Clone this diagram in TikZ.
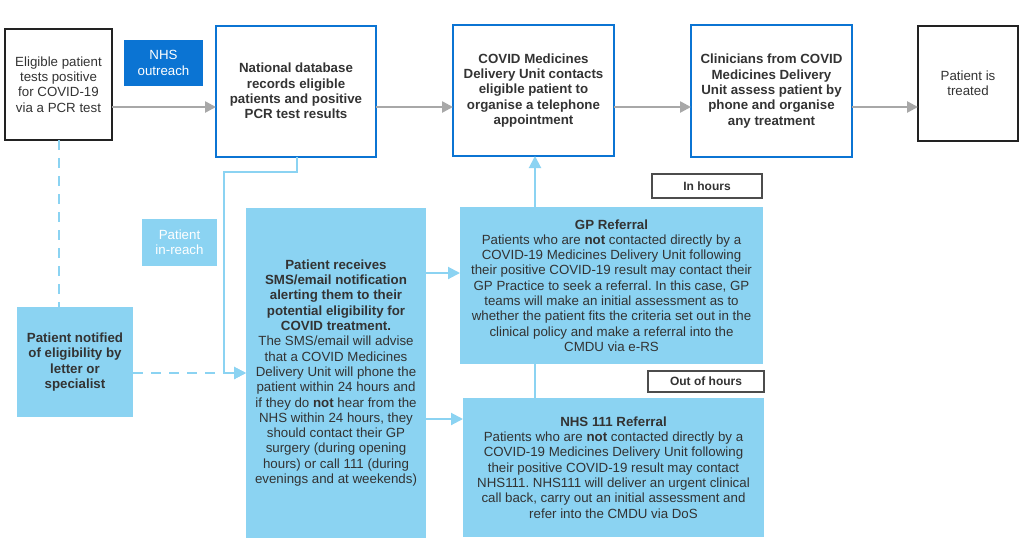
\documentclass[tikz,border=0pt]{standalone}
\usepackage{fontspec}
\setmainfont{Liberation Sans}
\usetikzlibrary{arrows.meta}
\definecolor{nhsblue}{HTML}{0B74D3}
\definecolor{lblue}{HTML}{8BD3F2}
\definecolor{arrgray}{HTML}{A8A8A8}
\definecolor{txt}{HTML}{333333}
\definecolor{frame}{HTML}{222222}
\frenchspacing
\begin{document}
\begin{tikzpicture}[x=1pt,y=-1pt,
  base/.style={inner sep=0pt, outer sep=0pt, align=center, font=\fontsize{13.3}{15.3}\selectfont, text=txt},
  blackbox/.style={base, draw=frame, line width=2pt},
  bluebox/.style={base, draw=nhsblue, line width=2pt, font=\fontsize{13.3}{15.3}\selectfont\bfseries},
  darkfill/.style={base, fill=nhsblue, text=white},
  lightfill/.style={base, fill=lblue},
  lightlabel/.style={base, fill=lblue, text=white},
  tagbox/.style={base, draw=black!70, line width=1.1pt, fill=white, align=left, text depth=0pt, font=\fontsize{12}{14}\selectfont\bfseries, inner xsep=9pt, anchor=west},
  grayarrow/.style={draw=arrgray, line width=2.5pt, -{Triangle[length=11pt,width=11pt]}},
  bluearrow/.style={draw=lblue, line width=2pt, -{Triangle[length=12pt,width=12pt]}},
  blueline/.style={draw=lblue, line width=2pt},
  dashline/.style={draw=lblue, line width=2pt, dash pattern=on 10pt off 8pt},
]
\useasboundingbox (0,0) rectangle (1024,549);

% top row
\node[blackbox, minimum width=107, minimum height=111] (elig) at (58.5,84.5)
  {Eligible patient\\tests positive\\for COVID-19\\via a PCR test};
\node[darkfill, minimum width=79, minimum height=46] (outreach) at (163.5,63)
  {NHS\\outreach};
\node[bluebox, minimum width=160, minimum height=131] (natdb) at (296,91)
  {National database\\records eligible\\patients and positive\\PCR test results};
\node[bluebox, minimum width=161, minimum height=131] (cmdu) at (533.5,90.5)
  {COVID Medicines\\Delivery Unit contacts\\eligible patient to\\organise a telephone\\appointment};
\node[bluebox, minimum width=161, minimum height=132] (clin) at (771.5,91)
  {Clinicians from COVID\\Medicines Delivery\\Unit assess patient by\\phone and organise\\any treatment};
\node[blackbox, minimum width=100, minimum height=115] (treated) at (968,83.5)
  {Patient is\\treated};

% lower part
\node[lightfill, minimum width=116, minimum height=110, font=\fontsize{13.3}{15.3}\selectfont\bfseries] (notified) at (75,362)
  {Patient notified\\of eligibility by\\letter or\\specialist};
\node[lightlabel, minimum width=75, minimum height=47] (inreach) at (179.5,242.5)
  {Patient\\in-reach};
\node[lightfill, minimum width=180, minimum height=330] (sms) at (336,373)
  {\textbf{Patient receives}\\\textbf{SMS/email notification}\\\textbf{alerting them to their}\\\textbf{potential eligibility for}\\\textbf{COVID treatment.}\\
   The SMS/email will advise\\that a COVID Medicines\\Delivery Unit will phone the\\patient within 24 hours and\\if they do \textbf{not} hear from the\\NHS within 24 hours, they\\should contact their GP\\surgery (during opening\\hours) or call 111 (during\\evenings and at weekends)};
\node[lightfill, minimum width=303, minimum height=157] (gp) at (611.5,285.5)
  {\textbf{GP Referral}\\Patients who are \textbf{not} contacted directly by a\\COVID-19 Medicines Delivery Unit following\\their positive COVID-19 result may contact their\\GP Practice to seek a referral. In this case, GP\\teams will make an initial assessment as to\\whether the patient fits the criteria set out in the\\clinical policy and make a referral into the\\CMDU via e-RS};
\node[lightfill, minimum width=301, minimum height=139] (nhs111) at (613.5,467.5)
  {\textbf{NHS 111 Referral}\\Patients who are \textbf{not} contacted directly by a\\COVID-19 Medicines Delivery Unit following\\their positive COVID-19 result may contact\\NHS111. NHS111 will deliver an urgent clinical\\call back, carry out an initial assessment and\\refer into the CMDU via DoS};
\node[tagbox, minimum width=110, minimum height=24] (inhours) at (652,186) {In hours};
\node[tagbox, minimum width=116, minimum height=21] (outhours) at (648,381.5) {Out of hours};

% connectors top row
\coordinate (ay) at (0,107);
\draw[grayarrow] (elig.east |- ay) -- (natdb.west |- ay);
\draw[grayarrow] (natdb.east |- ay) -- (cmdu.west |- ay);
\draw[grayarrow] (cmdu.east |- ay) -- (clin.west |- ay);
\draw[grayarrow] (clin.east |- ay) -- (treated.west |- ay);

% in-reach path
\coordinate (c1) at (297,172);
\coordinate (c2) at (224,172);
\coordinate (c3) at (224,373);
\draw[blueline] (natdb.south -| c1) -- (c1) -- (c2) -- (c3);
\draw[bluearrow] (c3) -- (sms.west |- c3);

% letter path
\draw[dashline] (elig.south) -- (notified.north -| elig.south);
\draw[dashline, -{Triangle[length=12pt,width=12pt]}] (notified.east |- c3) -- (sms.west |- c3);

% sms to referrals
\coordinate (g1) at (426,273);
\coordinate (n1) at (426,419);
\draw[bluearrow] (g1) -- (gp.west |- g1);
\draw[bluearrow] (n1) -- (nhs111.west |- n1);

% gp to cmdu and to nhs111
\coordinate (v1) at (535,300);
\draw[bluearrow] (gp.north -| v1) -- (cmdu.south -| v1);
\draw[blueline] (gp.south -| v1) -- (nhs111.north -| v1);
\end{tikzpicture}
\end{document}
